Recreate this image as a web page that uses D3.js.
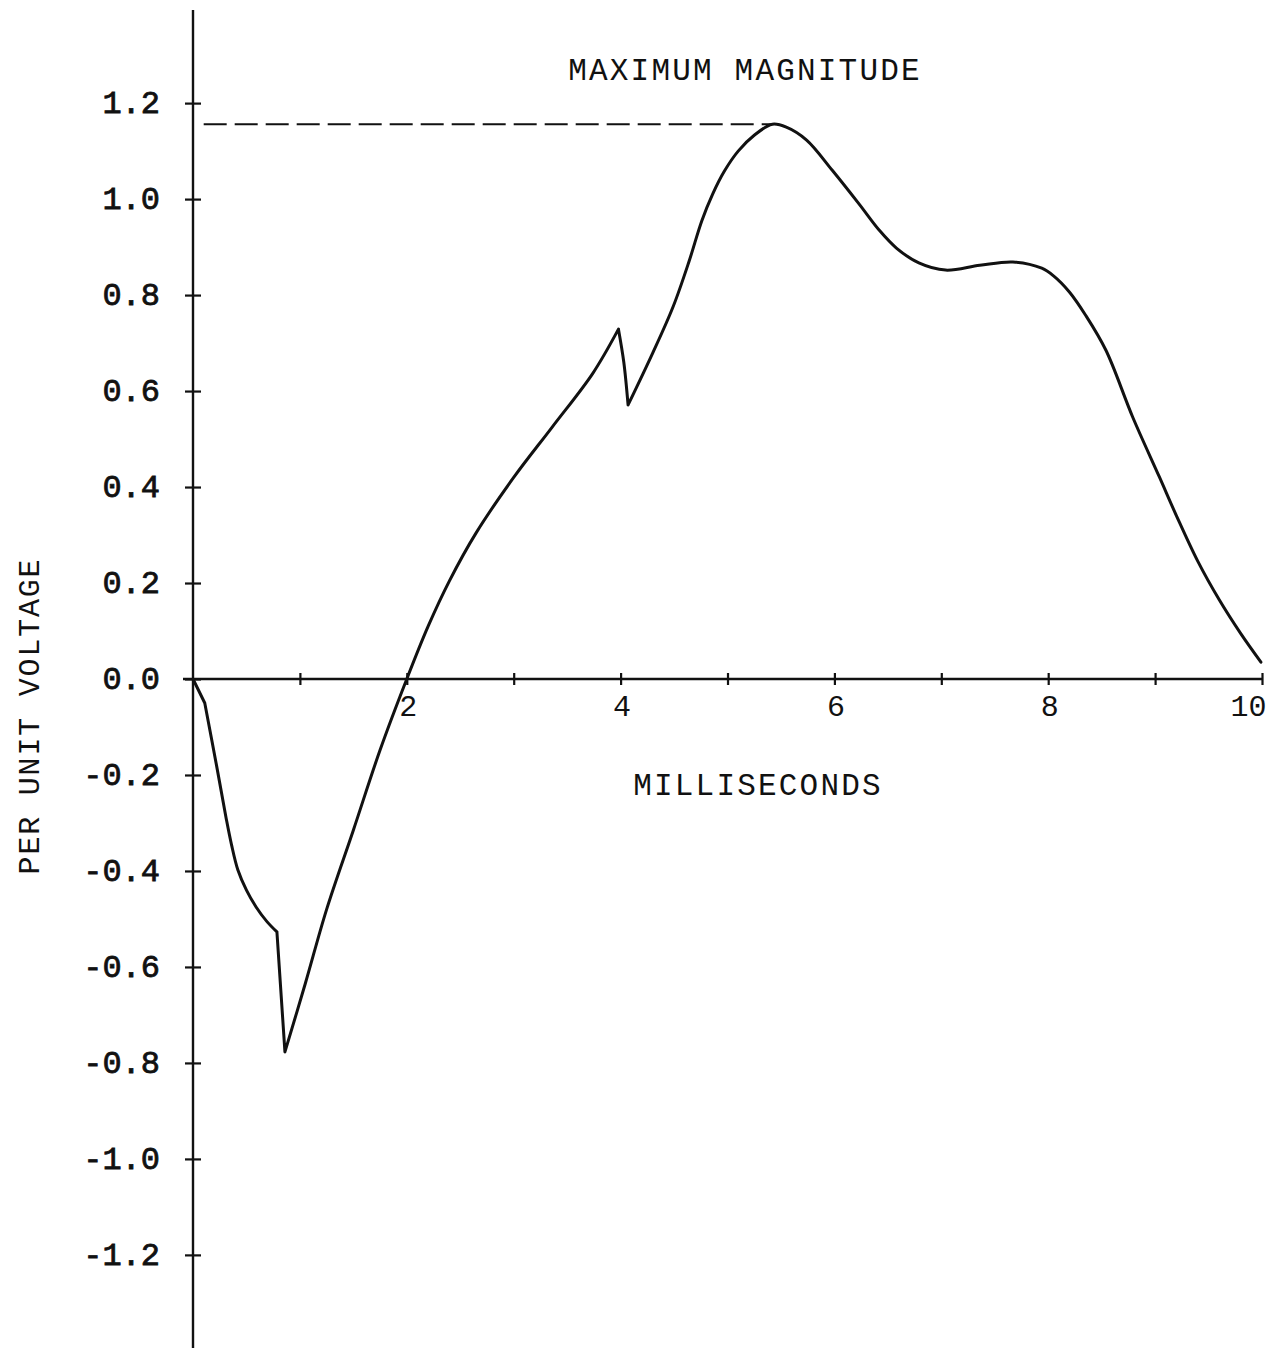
<!DOCTYPE html>
<html>
<head>
<meta charset="utf-8">
<script src="https://cdn.jsdelivr.net/npm/d3@7"></script>
<style>
  html, body { margin: 0; padding: 0; background: #fff; }
  svg { display: block; }
  text { font-family: "Liberation Mono", "DejaVu Sans Mono", monospace; fill: #111; }
</style>
</head>
<body>
<svg id="chart" width="1276" height="1348"></svg>
<script>
// ---- data ----
const timeMs = [0, 0.11, 0.22, 0.31, 0.36, 0.42, 0.50, 0.59, 0.69, 0.785, 0.86, 1.05, 1.25, 1.5, 1.75, 2.0,
  2.2, 2.4, 2.65, 3.0, 3.36, 3.74, 3.98, 4.03, 4.07, 4.30, 4.49, 4.64, 4.76, 4.86, 4.97, 5.10, 5.25,
  5.42, 5.55, 5.74, 5.98, 6.23, 6.42, 6.58, 6.79, 7.04, 7.36, 7.67, 7.94, 8.05, 8.2, 8.35, 8.54, 8.79,
  9.04, 9.2, 9.4, 9.6, 9.8, 9.99];
const voltage = [0, -0.05, -0.18, -0.29, -0.345, -0.398, -0.44, -0.475, -0.505, -0.527, -0.777, -0.635, -0.48, -0.315, -0.148, 0.0,
  0.11, 0.205, 0.305, 0.42, 0.525, 0.637, 0.729, 0.66, 0.571, 0.679, 0.775, 0.87, 0.955, 1.01, 1.058, 1.10, 1.133,
  1.156, 1.15, 1.123, 1.06, 0.99, 0.935, 0.898, 0.867, 0.852, 0.862, 0.869, 0.856, 0.84, 0.806, 0.758, 0.685, 0.546,
  0.421, 0.34, 0.245, 0.165, 0.095, 0.035];
const cuspTimes = [0.11, 0.785, 0.86, 3.98, 4.07];   // sharp corners in the trace
const maxMagnitude = 1.156;
const maxDashStart = 0.1;
const maxDashEnd = 5.42;
const xTickValues = [1, 2, 3, 4, 5, 6, 7, 8, 9, 10];
const xTickLabels = ["", "2", "", "4", "", "6", "", "8", "", "10"];
const yTickValues = [1.2, 1.0, 0.8, 0.6, 0.4, 0.2, 0.0, -0.2, -0.4, -0.6, -0.8, -1.0, -1.2];
const yTickLabels = ["1.2", "1.0", "0.8", "0.6", "0.4", "0.2", "0.0", "-0.2", "-0.4", "-0.6", "-0.8", "-1.0", "-1.2"];
const titleText = "MAXIMUM MAGNITUDE";
const xLabelText = "MILLISECONDS";
const yLabelText = "PER UNIT VOLTAGE";

// ---- layout ----
const svg = d3.select("#chart");
const x = d3.scaleLinear().domain([0, 10]).range([193, 1262]);
const y = d3.scaleLinear().domain([-1.394, 1.394]).range([1348, 10]);
const ink = "#111";

// vertical axis line
svg.append("line")
  .attr("x1", x(0)).attr("x2", x(0))
  .attr("y1", y.range()[1]).attr("y2", y.range()[0])
  .attr("stroke", ink).attr("stroke-width", 2.4);

// horizontal axis line
svg.append("line")
  .attr("x1", x(0) - 10).attr("x2", x(10))
  .attr("y1", y(0)).attr("y2", y(0))
  .attr("stroke", ink).attr("stroke-width", 2.6);

// y axis ticks + labels
const yAxis = d3.axisLeft(y)
  .tickValues(yTickValues)
  .tickSize(8)
  .tickPadding(25)
  .tickFormat((d, i) => yTickLabels[i]);
const gy = svg.append("g").attr("transform", `translate(${x(0)},0)`).call(yAxis);
gy.select(".domain").remove();
gy.selectAll(".tick line").attr("x1", 8).attr("stroke", ink).attr("stroke-width", 2.2);
gy.selectAll(".tick text")
  .attr("font-family", "Liberation Mono")
  .attr("font-size", 32)
  .attr("fill", ink)
  .attr("stroke", ink)
  .attr("stroke-width", 0.8)
  .attr("dy", "0.30em");

// x axis ticks + labels
const xAxis = d3.axisBottom(x)
  .tickValues(xTickValues)
  .tickSize(6)
  .tickPadding(14)
  .tickFormat((d, i) => xTickLabels[i]);
const gx = svg.append("g").attr("transform", `translate(0,${y(0)})`).call(xAxis);
gx.select(".domain").remove();
gx.selectAll(".tick line").attr("y1", -6).attr("stroke", ink).attr("stroke-width", 2.2);
gx.selectAll(".tick text")
  .attr("font-family", "Liberation Mono")
  .attr("font-size", 30)
  .attr("fill", ink)
  .attr("dy", "0.55em")
  .attr("text-anchor", d => d === 10 ? "end" : "middle")
  .attr("dx", d => d === 10 ? 4 : 1);

// dashed maximum line
svg.append("line")
  .attr("x1", x(maxDashStart)).attr("x2", x(maxDashEnd))
  .attr("y1", y(maxMagnitude)).attr("y2", y(maxMagnitude))
  .attr("stroke", ink).attr("stroke-width", 2)
  .attr("stroke-dasharray", "23,8");

// trace: split into smooth segments at the cusps
const pts = timeMs.map((t, i) => [t, voltage[i]]);
const segments = [];
let cur = [];
pts.forEach(p => {
  cur.push(p);
  if (cuspTimes.includes(p[0])) { segments.push(cur); cur = [p]; }
});
if (cur.length > 1) segments.push(cur);

const line = d3.line()
  .x(d => x(d[0]))
  .y(d => y(d[1]))
  .curve(d3.curveCatmullRom.alpha(0.5));

svg.append("path")
  .attr("d", segments.map(s => line(s)).join(""))
  .attr("fill", "none")
  .attr("stroke", ink)
  .attr("stroke-width", 3)
  .attr("stroke-linejoin", "round")
  .attr("stroke-linecap", "round");

// texts
svg.append("text")
  .attr("x", 745).attr("y", 80)
  .attr("text-anchor", "middle")
  .attr("font-size", 31)
  .attr("letter-spacing", 2.2)
  .text(titleText);

svg.append("text")
  .attr("x", 758).attr("y", 795)
  .attr("text-anchor", "middle")
  .attr("font-size", 31)
  .attr("letter-spacing", 2.2)
  .text(xLabelText);

svg.append("text")
  .attr("transform", "translate(39,716) rotate(-90)")
  .attr("text-anchor", "middle")
  .attr("font-size", 30)
  .attr("letter-spacing", 1.8)
  .text(yLabelText);
</script>
</body>
</html>
